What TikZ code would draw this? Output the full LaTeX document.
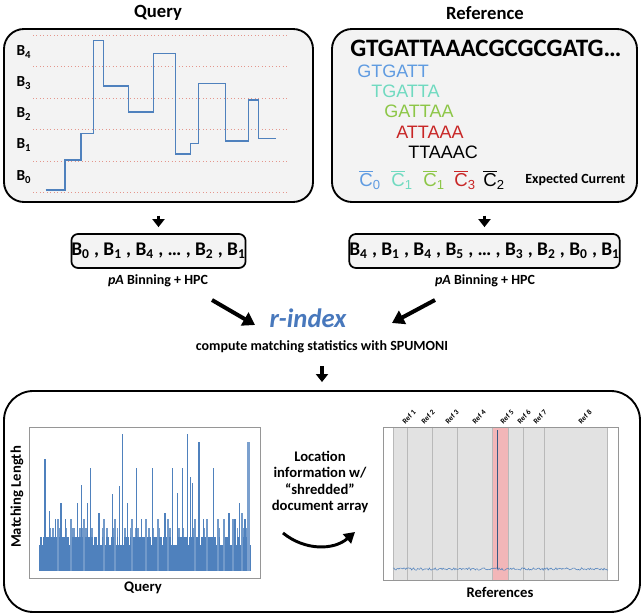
\documentclass[tikz,border=0pt]{standalone}
\usepackage{fontspec}
\setmainfont{Carlito}
\newfontfamily\seqfont{Liberation Sans}
\usetikzlibrary{arrows.meta}

\definecolor{stepblue}{RGB}{79,129,189}
\definecolor{binred}{RGB}{228,150,140}
\definecolor{panelgray}{RGB}{243,243,243}
\definecolor{kblue}{RGB}{95,155,225}
\definecolor{kteal}{RGB}{112,218,192}
\definecolor{kgreen}{RGB}{140,198,70}
\definecolor{kred}{RGB}{200,38,38}
\definecolor{idxblue}{RGB}{72,120,188}
\definecolor{bandgray}{RGB}{226,226,226}
\definecolor{bandline}{RGB}{185,185,185}
\definecolor{bandpink}{RGB}{242,182,184}
\definecolor{framegray}{RGB}{150,150,150}

\tikzset{
  panel/.style={draw, line width=1.4pt, rounded corners=15pt, fill=panelgray, inner sep=0pt},
  binbox/.style={draw, line width=1.3pt, rounded corners=5pt, fill=panelgray, inner sep=0pt, font=\fontsize{14.5}{16}\selectfont\bfseries},
  title/.style={font=\fontsize{14}{16}\selectfont\bfseries, inner sep=0.75pt},
  label/.style={font=\fontsize{10.5}{12}\selectfont\bfseries, inner sep=0.75pt},
  binlab/.style={font=\fontsize{11.5}{13}\selectfont\bfseries, inner sep=0.75pt},
  kmer/.style={font=\fontsize{13.5}{15}\selectfont\seqfont, anchor=west, inner sep=0pt},
  mean/.style={font=\fontsize{14}{16}\selectfont\seqfont, inner sep=0.75pt},
  reflab/.style={font=\fontsize{5.6}{6}\selectfont\bfseries, rotate=45, inner sep=0pt},
  downarrow/.style={line width=2.4pt, -{Triangle[width=9pt,length=6pt]}},
  bigarrow/.style={line width=3pt, -{Triangle[width=11pt,length=9pt]}},
  binline/.style={binred, dotted, line width=0.6pt},
  bar/.style={stepblue, line width=0.8pt},
}
\newcommand{\cmean}[2]{\textcolor{#1}{$\overline{\mbox{C}}$\textsubscript{#2}}}

\begin{document}
\begin{tikzpicture}[x=0.75pt,y=0.75pt,yscale=-1,xscale=1]
\useasboundingbox (0,0) rectangle (644,616);

% Query panel
\node[title] (qtitle) at (158,13) {Query};
\node[panel, minimum width=231.75pt, minimum height=129.75pt] (qpanel) at (158.5,115.5) {};
\foreach \y in {35,66,98,129,161,192}
  \draw[binline] (33,\y) -- (287,\y);
\foreach \y/\b in {52/4,83/3,114/2,145/1,177/0}
  \node[binlab] (bin\b) at (24,\y) {B\textsubscript{\b}};
%Step signal
\draw[stepblue, line width=1.1pt] (45.7,190) -- (65,190) -- (65,160) -- (81,160) -- (81,133.3) -- (93.3,133.3) -- (93.3,40.7) -- (103.3,40.7) -- (103.3,86) -- (128.3,86) -- (128.3,112) -- (153.3,112) -- (153.3,53.3) -- (175.7,53.3) -- (175.7,154) -- (190.7,154) -- (190.7,143.3) -- (198.3,143.3) -- (198.3,83.3) -- (225.7,83.3) -- (225.7,141) -- (248.3,141) -- (248.3,100) -- (258.3,100) -- (258.3,138.3) -- (276,138.3);

% Reference panel
\node[title] (rtitle) at (485,13) {Reference};
\node[panel, minimum width=228.75pt, minimum height=129.75pt] (rpanel) at (484.5,115.5) {};
\node[font=\fontsize{18.8}{20}\selectfont\bfseries, anchor=west, inner sep=0pt] (seq) at (350,48) {GTGATTAAACGCGCGATG…};
\node[kmer, text=kblue] (k0) at (357,71) {GTGATT};
\node[kmer, text=kteal] (k1) at (371,91) {TGATTA};
\node[kmer, text=kgreen] (k2) at (384,111) {GATTAA};
\node[kmer, text=kred] (k3) at (396,132) {ATTAAA};
\node[kmer, text=black] (k4) at (408,152) {TTAAAC};
\node[mean] (c0) at (370,180) {\cmean{kblue}{0}};
\node[mean] (c1) at (402,180) {\cmean{kteal}{1}};
\node[mean] (c2) at (434,180) {\cmean{kgreen}{1}};
\node[mean] (c3) at (465,180) {\cmean{kred}{3}};
\node[mean] (c4) at (494,180) {\cmean{black}{2}};
\node[font=\fontsize{10.5}{12}\selectfont\bfseries, anchor=west, inner sep=0pt] (expcur) at (525,180) {Expected Current};

% Binned sequences
\node[binbox, minimum width=123.75pt, minimum height=25.5pt] (qbins) at (158.5,251) {B\textsubscript{0} , B\textsubscript{1} , B\textsubscript{4} , … , B\textsubscript{2} , B\textsubscript{1}};
\node[binbox, minimum width=192.75pt, minimum height=25.5pt] (rbins) at (484.5,251) {B\textsubscript{4} , B\textsubscript{1} , B\textsubscript{4} , B\textsubscript{5} , … , B\textsubscript{3} , B\textsubscript{2} , B\textsubscript{0} , B\textsubscript{1}};
\node[label] (qbinlab) at (158,281) {\textit{pA} Binning + HPC};
\node[label] (rbinlab) at (485,281) {\textit{pA} Binning + HPC};
\draw[downarrow, shorten <=9.5pt, shorten >=4.5pt] (qpanel) -- (qbins);
\draw[downarrow, shorten <=9.5pt, shorten >=4.5pt] (rpanel) -- (rbins);

% r-index
\node[font=\fontsize{20}{22}\selectfont\bfseries\itshape, text=idxblue, inner sep=0.75pt] (rindex) at (308,318) {r-index};
\node[label] (spumoni) at (322,347) {compute matching statistics with SPUMONI};
\coordinate (qfrom) at (212,300);
\coordinate (qto) at (255,325);
\coordinate (rfrom) at (435,300);
\coordinate (rto) at (392,323);
\draw[bigarrow] (qfrom) -- (qto);
\draw[bigarrow] (rfrom) -- (rto);

% Result panel
\node[panel, fill=white, rounded corners=22pt, minimum width=477pt, minimum height=165.75pt] (result) at (322,501.5) {};
\draw[downarrow, line width=2.6pt, shorten <=9pt, shorten >=6pt] (spumoni) -- (result);

%Matching statistics plot
\draw[framegray, line width=0.6pt] (29,427) rectangle (260,578);
\fill[stepblue] (39,545) rectangle (251,571);
\pgfmathsetseed{42}
\foreach \x in {39.5,41,...,250} {
  \pgfmathrandominteger{\lv}{0}{9}
  \ifnum\lv>2 \draw[bar] (\x,545) -- (\x,537); \fi
  \ifnum\lv>6 \draw[bar, stepblue!80] (\x,537) -- (\x,528); \fi
}
\foreach \x/\t in {45/459,49.3/511,55.7/519,61/503,65.7/519,77.7/503,81.7/485,87.3/503,90.7/468,99/513,112.3/494,119.3/486,122.7/434,127.7/503,136.7/468,141.7/519,152.7/468,165/513,172.7/468,177.7/493,182.7/468,187.3/434,190.7/477,192.3/483,199/442,203.3/519,213.3/468,229/513,235/519,239.3/503,245/519}
  \draw[bar] (\x,571) -- (\x,\t);
\foreach \x/\t in {58/519,71/519,84/519,104/519,115/519,132/519,146/519,158/519,168/519,195/519,207/519,218/519,224/519,233/519,242/513}
  \draw[bar, stepblue!80] (\x,571) -- (\x,\t);
\fill[stepblue!75] (246.7,442) rectangle (250,571);
\node[label, font=\fontsize{11}{12}\selectfont\bfseries, rotate=90] (mlen) at (17,497) {Matching Length};
\node[label, font=\fontsize{11}{12}\selectfont\bfseries] (qaxis) at (143,588) {Query};

% Location text and arrow
\node[label, font=\fontsize{11}{12.2}\selectfont\bfseries, align=center] (loc) at (320,482) {Location\\information w/\\“shredded”\\document array};
\coordinate (locfrom) at (283,533);
\coordinate (locto) at (355,532);
\draw[line width=2.2pt, -{Triangle[width=9pt,length=8pt]}] (locfrom) to[bend left=40] (locto);

%References plot
\fill[bandgray] (393,427) rectangle (608,580);
\fill[bandpink] (492.7,427) rectangle (508.7,580);
\foreach \x in {393,407.7,432.7,457.3,492.7,508.7,523.3,544.7,607.7}
  \draw[bandline, line width=0.5pt] (\x,427) -- (\x,580);
\draw[framegray, line width=0.6pt] (383,427) rectangle (618,580);
\draw[stepblue, line width=0.4pt] plot[domain=393:608, samples=220] (\x,{569+1.2*rand});
\draw[stepblue!70!black, line width=0.6pt] (497.7,569) -- (497.7,430);
\foreach \x/\n in {409/1,428/2,452/3,479/4,507/5,524/6,540/7,585/8}
  \node[reflab] (ref\n) at (\x,417) {Ref \n};
\node[label, font=\fontsize{11}{12}\selectfont\bfseries] (refaxis) at (500,592) {References};

\end{tikzpicture}
\end{document}
